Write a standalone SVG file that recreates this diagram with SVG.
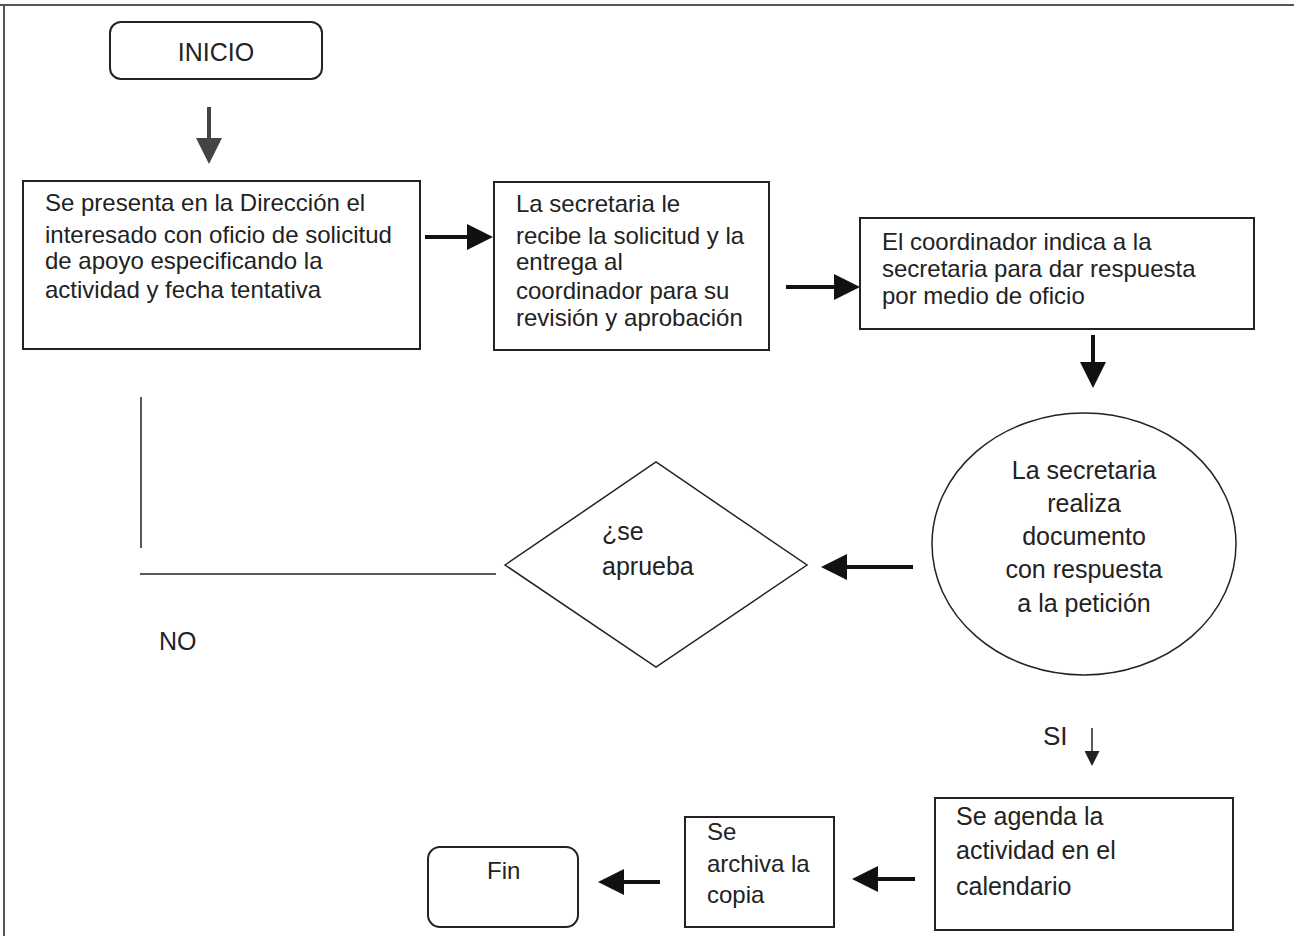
<svg xmlns="http://www.w3.org/2000/svg" width="1294" height="936" viewBox="0 0 1294 936">
<defs>
<style>
.box{fill:#fff;stroke:#222;stroke-width:2}
.thin{fill:none;stroke:#222;stroke-width:1.5}
.t{font-family:"Liberation Sans",Arial,sans-serif;font-size:24px;fill:#222}
.shaft{stroke:#111;stroke-width:4;fill:none}
</style>
<marker id="ah" viewBox="0 0 10 10" refX="0" refY="5" markerUnits="userSpaceOnUse" markerWidth="26" markerHeight="27" orient="auto"><path d="M0,0 L10,5 L0,10 z" fill="#111"/></marker>
<marker id="ahg" viewBox="0 0 10 10" refX="0" refY="5" markerUnits="userSpaceOnUse" markerWidth="26" markerHeight="26" orient="auto"><path d="M0,0 L10,5 L0,10 z" fill="#444"/></marker>
<marker id="ahs" viewBox="0 0 10 10" refX="0" refY="5" markerUnits="userSpaceOnUse" markerWidth="15" markerHeight="15" orient="auto"><path d="M0,0 L10,5 L0,10 z" fill="#222"/></marker>
</defs>
<rect width="1294" height="936" fill="#fff"/>
<g id="frame" stroke="#555" stroke-width="2">
<line x1="0" y1="5" x2="1294" y2="5"/>
<line x1="4" y1="5" x2="4" y2="936"/>
</g>
<g id="connectors">
<line class="shaft" x1="209" y1="107" x2="209" y2="138" stroke="#444" style="stroke:#444" marker-end="url(#ahg)"/>
<line class="shaft" x1="425" y1="237" x2="467" y2="237" marker-end="url(#ah)"/>
<line class="shaft" x1="786" y1="287" x2="834" y2="287" marker-end="url(#ah)"/>
<line class="shaft" x1="1093" y1="335" x2="1093" y2="362" marker-end="url(#ah)"/>
<line class="shaft" x1="913" y1="567" x2="847" y2="567" marker-end="url(#ah)"/>
<line class="thin" x1="141" y1="397" x2="141" y2="548"/>
<line class="thin" x1="140" y1="574" x2="496" y2="574"/>
<line class="thin" x1="1092" y1="728" x2="1092" y2="751" marker-end="url(#ahs)"/>
<line class="shaft" x1="915" y1="879" x2="878" y2="879" marker-end="url(#ah)"/>
<line class="shaft" x1="660" y1="882" x2="624" y2="882" marker-end="url(#ah)"/>
<text class="t" x="159" y="650" style="font-size:25px">NO</text>
<text class="t" x="1043" y="745" style="font-size:26px">SI</text>
</g>
<g id="inicio">
<rect class="box" x="110" y="22" width="212" height="57" rx="11"/>
<text class="t" x="216" y="61" text-anchor="middle" style="font-size:25px">INICIO</text>
</g>
<g id="presenta">
<rect class="box" x="23" y="181" width="397" height="168"/>
<text class="t" x="45" y="211">Se presenta en la Dirección el</text>
<text class="t" x="45" y="243">interesado con oficio de solicitud</text>
<text class="t" x="45" y="269">de apoyo especificando la</text>
<text class="t" x="45" y="298">actividad y fecha tentativa</text>
</g>
<g id="recibe">
<rect class="box" x="494" y="182" width="275" height="168"/>
<text class="t" x="516" y="212">La secretaria le</text>
<text class="t" x="516" y="244">recibe la solicitud y la</text>
<text class="t" x="516" y="270">entrega al</text>
<text class="t" x="516" y="299">coordinador para su</text>
<text class="t" x="516" y="326">revisión y aprobación</text>
</g>
<g id="coordinador">
<rect class="box" x="860" y="218" width="394" height="111"/>
<text class="t" x="882" y="250">El coordinador indica a la</text>
<text class="t" x="882" y="277">secretaria para dar respuesta</text>
<text class="t" x="882" y="304">por medio de oficio</text>
</g>
<g id="documento">
<ellipse cx="1084" cy="544" rx="152" ry="131" class="thin"/>
<g class="t" text-anchor="middle" style="font-size:25px">
<text class="t" x="1084" y="479" text-anchor="middle" style="font-size:25px">La secretaria</text>
<text class="t" x="1084" y="512" text-anchor="middle" style="font-size:25px">realiza</text>
<text class="t" x="1084" y="545" text-anchor="middle" style="font-size:25px">documento</text>
<text class="t" x="1084" y="578" text-anchor="middle" style="font-size:25px">con respuesta</text>
<text class="t" x="1084" y="612" text-anchor="middle" style="font-size:25px">a la petición</text>
</g>
</g>
<g id="aprueba">
<polygon class="thin" points="505,565 656,462 807,565 656,667"/>
<text class="t" x="602" y="540" style="font-size:25px">¿se</text>
<text class="t" x="602" y="575" style="font-size:25px">aprueba</text>
</g>
<g id="agenda">
<rect class="box" x="935" y="798" width="298" height="132"/>
<text class="t" x="956" y="825" style="font-size:25px">Se agenda la</text>
<text class="t" x="956" y="859" style="font-size:25px">actividad en el</text>
<text class="t" x="956" y="895" style="font-size:25px">calendario</text>
</g>
<g id="archiva">
<rect class="box" x="685" y="817" width="149" height="110"/>
<text class="t" x="707" y="840">Se</text>
<text class="t" x="707" y="872">archiva la</text>
<text class="t" x="707" y="903">copia</text>
</g>
<g id="fin">
<rect class="box" x="428" y="847" width="150" height="80" rx="12"/>
<text class="t" x="487" y="879">Fin</text>
</g>
</svg>
